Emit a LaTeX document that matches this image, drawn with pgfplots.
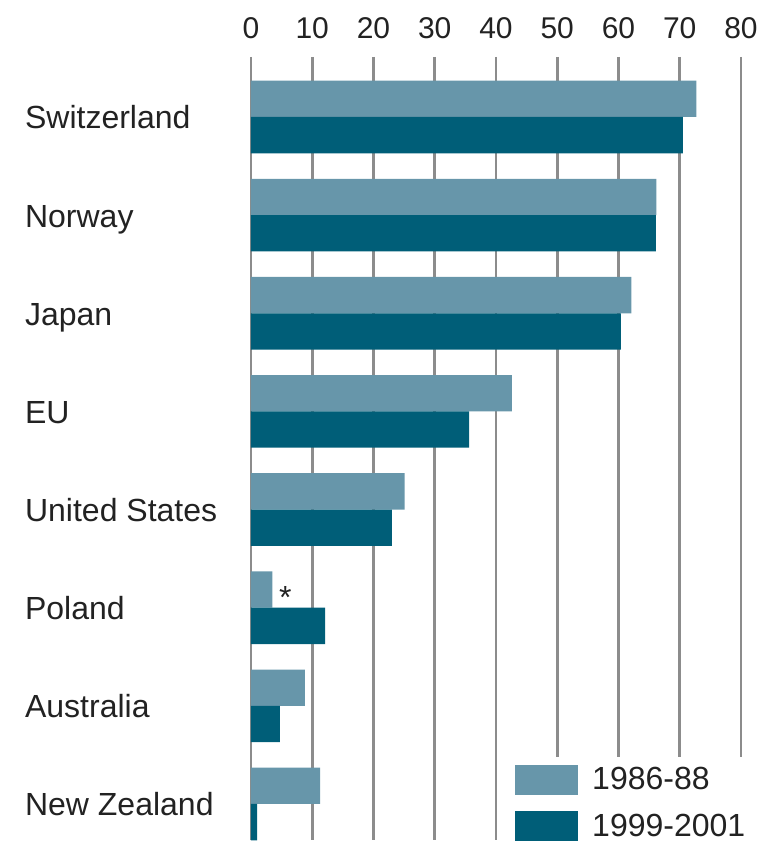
\documentclass[border=0pt]{standalone}
\usepackage{fontspec}
\setmainfont{Liberation Sans}
\usepackage{pgfplots}
\pgfplotsset{compat=1.18}
\definecolor{lightbar}{HTML}{6796AA}
\definecolor{darkbar}{HTML}{005E78}
\definecolor{gridgray}{HTML}{8C8C8C}
\definecolor{txt}{HTML}{222222}
\begin{document}
\begin{tikzpicture}
\begin{axis}[
  at={(0,0)}, anchor=south west,
  scale only axis, width=245pt, height=391.5pt,
  xmin=0, xmax=80, ymin=-0.611, ymax=7.367,
  y dir=reverse,
  xbar, bar width=0.37,
  axis line style={draw=none},
  xtick={0,10,...,80},
  xticklabel pos=upper,
  xmajorgrids, major grid style={gridgray, line width=1.4pt},
  major tick length=0pt,
  ytick={0,...,7},
  yticklabels={Switzerland,Norway,Japan,EU,United States,Poland,Australia,New Zealand},
  yticklabel style={anchor=base west, xshift=-116.5pt, yshift=-6pt, text=txt, font=\fontsize{16}{18}\selectfont},
  xticklabel style={anchor=base, yshift=9pt, text=txt, font=\fontsize{15}{18}\selectfont},
  /pgf/number format/assume math mode=true,
  legend style={draw=none, fill=white, at={(0.518,0.106)}, anchor=north west,
    inner xsep=5pt, inner ysep=3pt, font=\fontsize{16}{18}\selectfont, text=txt,
    legend cell align=left, row sep=6.5pt,
    /tikz/every odd column/.append style={column sep=5pt}},
]
\addplot[fill=lightbar, draw=none, bar shift=-0.185,
  legend image code/.code={\fill[lightbar] (0pt,-7.5pt) rectangle (31.5pt,7.5pt);}]
  coordinates {(72.7,0) (66.2,1) (62.1,2) (42.6,3) (25.1,4) (3.5,5) (8.8,6) (11.3,7)};
\addlegendentry{1986-88}
\addplot[fill=darkbar, draw=none, bar shift=0.185,
  legend image code/.code={\fill[darkbar] (0pt,-7.5pt) rectangle (31.5pt,7.5pt);}]
  coordinates {(70.5,0) (66.1,1) (60.4,2) (35.6,3) (23.0,4) (12.1,5) (4.7,6) (1.0,7)};
\addlegendentry{1999-2001}
\node[font=\fontsize{16}{18}\selectfont, text=txt] at (axis cs:5.6,4.90) {*};
\end{axis}
\pgfresetboundingbox
\path[use as bounding box] (-125.5pt,-5pt) rectangle (262pt,420pt);
\end{tikzpicture}
\end{document}
